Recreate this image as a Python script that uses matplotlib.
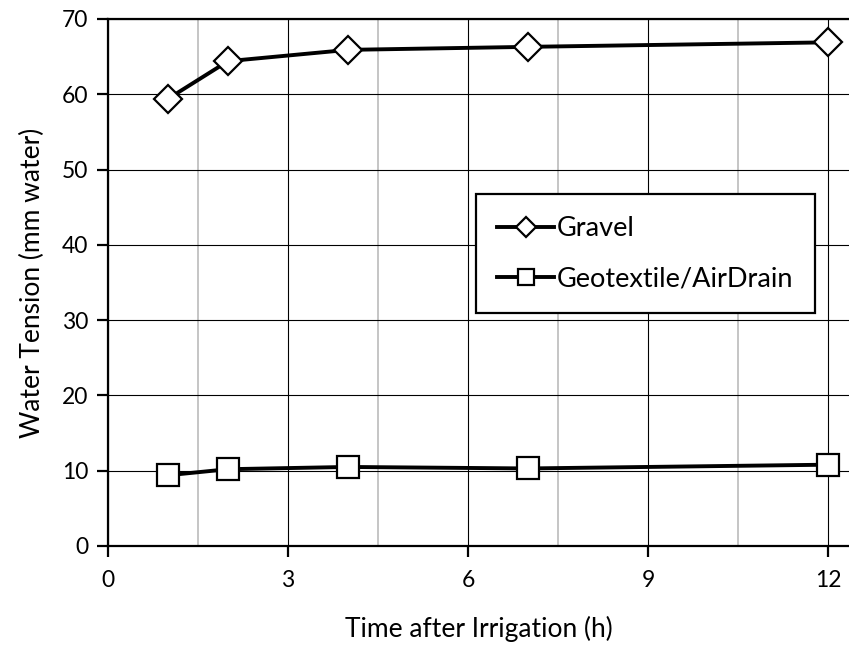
import matplotlib
matplotlib.use("Agg")
import matplotlib.pyplot as plt
from matplotlib.ticker import MultipleLocator

plt.rcParams['font.family'] = ['Lato', 'DejaVu Sans']

time_h = [1, 2, 4, 7, 12]
gravel = [59.4, 64.4, 65.9, 66.3, 66.9]
geotextile = [9.4, 10.2, 10.5, 10.3, 10.8]

fig = plt.figure(figsize=(8.49, 6.46), dpi=100)
ax = fig.add_axes([0.1272, 0.1548, 0.873, 0.8158])

ax.set_xlim(0, 12.35)
ax.set_ylim(0, 70)
ax.xaxis.set_major_locator(MultipleLocator(3))
ax.xaxis.set_minor_locator(MultipleLocator(1.5))
ax.yaxis.set_major_locator(MultipleLocator(10))

ax.grid(which='major', axis='both', color='black', linewidth=0.8)
ax.grid(which='minor', axis='x', color='#bbbbbb', linewidth=1.2)
ax.set_axisbelow(True)

ax.plot(time_h, gravel, color='black', linewidth=2.8, marker='D', markersize=14,
        markerfacecolor='white', markeredgecolor='black', markeredgewidth=1.6,
        label='Gravel', zorder=3)
ax.plot(time_h, geotextile, color='black', linewidth=2.8, marker='s', markersize=16,
        markerfacecolor='white', markeredgecolor='black', markeredgewidth=1.6,
        label='Geotextile/AirDrain', zorder=3)

for s in ['left', 'bottom', 'top']:
    ax.spines[s].set_linewidth(1.6)
    ax.spines[s].set_color('black')
ax.spines['right'].set_visible(False)

ax.tick_params(axis='both', which='major', direction='out', length=8, width=1.6,
               labelsize=16.5, colors='black')
ax.tick_params(axis='x', which='minor', length=0)
ax.tick_params(axis='x', pad=9)
ax.tick_params(axis='y', pad=6)

ax.set_xlabel('Time after Irrigation (h)', fontsize=19, labelpad=18)
ax.set_ylabel('Water Tension (mm water)', fontsize=19, labelpad=12)

leg = ax.legend(loc='upper left', bbox_to_anchor=(0.478, 0.693), fontsize=19.5,
                frameon=True, fancybox=False, edgecolor='black', framealpha=1,
                handlelength=2.1, handletextpad=0.1, labelspacing=0.95,
                borderpad=0.8, markerscale=0.75)
leg.get_frame().set_linewidth(1.6)

fig.savefig('out.png', dpi=100)
